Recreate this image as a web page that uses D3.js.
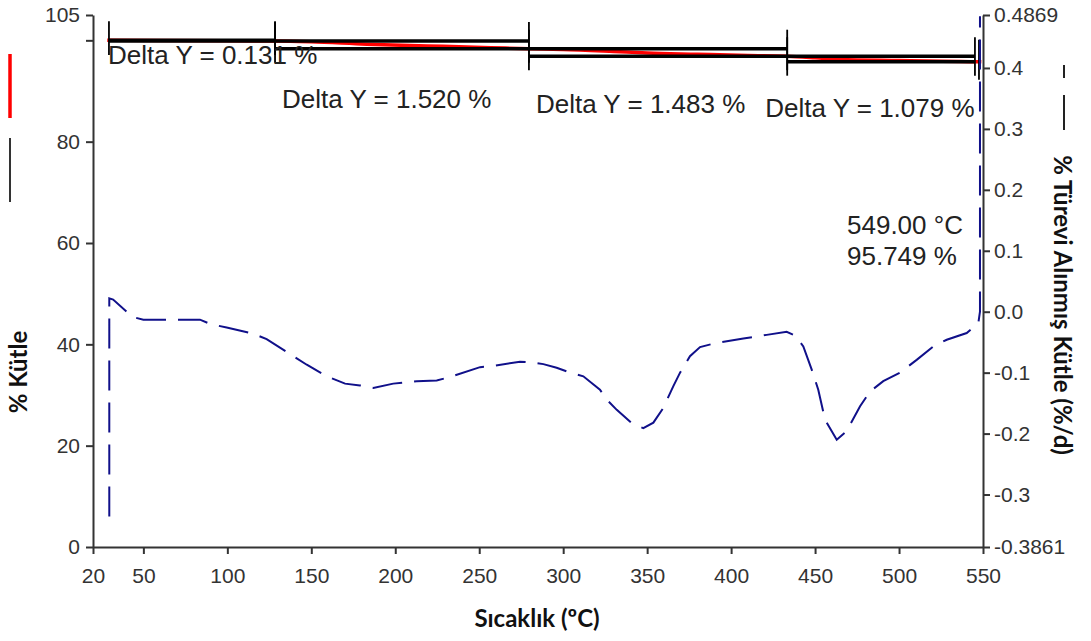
<!DOCTYPE html>
<html>
<head>
<meta charset="utf-8">
<script src="https://cdn.jsdelivr.net/npm/d3@7"></script>
<style>
  body { margin: 0; background: #fff; }
  svg { display: block; }
  .tick text { font-family: "Liberation Sans", Arial, sans-serif; font-size: 21px; fill: #333; }
  .axis path, .axis line { stroke: #333; stroke-width: 2; }
  .ttl { font-family: Lato, "Open Sans", sans-serif; font-weight: bold; font-size: 24px; fill: #111; }
  .dlab { font-family: "Liberation Sans", Arial, sans-serif; font-size: 26px; fill: #222; }
</style>
</head>
<body>
<div id="frame_div"></div>
<script>
// TGA chart: mass (left) and derivative (right) vs temperature

const FRAME_WIDTH = 1091;
const FRAME_HEIGHT = 641;

// x axis ticks
const xTicks = [20, 50, 100, 150, 200, 250, 300, 350, 400, 450, 500, 550];
const yLeftTicks = [0, 20, 40, 60, 80, 100, 105];
const yLeftLabels = ["0", "20", "40", "60", "80", "", "105"];
const yRightTicks = [-0.3861, -0.3, -0.2, -0.1, 0.0, 0.1, 0.2, 0.3, 0.4, 0.4869];
const yRightLabels = ["-0.3861", "-0.3", "-0.2", "-0.1", "0.0", "0.1", "0.2", "0.3", "0.4", "0.4869"];

// derivative curve (right axis)
const derivT = [29.7, 29.7, 32, 40.1, 44.0, 50.0, 83.7, 89.7, 99.6, 115.5, 123.4, 139.3, 147.3,
  159.2, 170.1, 179.0, 186.9, 198.8, 212.8, 224.7, 232.6, 250.5, 258.4, 274.3, 280.2, 288.2,
  296.1, 304.1, 312.0, 321.9, 325.9, 331.9, 341.8, 347.7, 353.7, 359.6, 365.6, 369.6, 375.5,
  381.5, 391.4, 407.3, 421.2, 433.1, 438.1, 443.0, 448.0, 451.9, 455.9, 462.9, 468.8, 476.8,
  482.7, 490.6, 500.6, 510.5, 520.4, 528.4, 540.3, 547.2, 548.2, 548.2];
const derivV = [-0.336, 0.022, 0.020, 0.000, -0.009, -0.013, -0.013, -0.020, -0.026, -0.036, -0.045,
  -0.073, -0.087, -0.106, -0.118, -0.121, -0.125, -0.118, -0.114, -0.113, -0.107, -0.091, -0.089,
  -0.082, -0.083, -0.086, -0.092, -0.100, -0.106, -0.128, -0.144, -0.161, -0.185, -0.191, -0.182,
  -0.158, -0.122, -0.100, -0.073, -0.058, -0.051, -0.044, -0.038, -0.033, -0.039, -0.057, -0.095,
  -0.128, -0.177, -0.210, -0.196, -0.155, -0.131, -0.114, -0.100, -0.079, -0.057, -0.046, -0.035,
  -0.019, 0.000, 0.485];

// mass curve (left axis)
const massT = [28.5, 60, 100, 128.4, 150, 183, 219, 257, 279.6, 300, 330, 350, 380, 410, 433.4,
  450, 465, 500, 545.2, 549];
const massV = [100.0, 99.97, 99.92, 99.869, 99.7, 99.25, 98.9, 98.55, 98.349, 98.2, 97.8, 97.5,
  97.25, 97.0, 96.866, 96.55, 96.2, 96.0, 95.787, 95.749];

// delta Y step markers
const deltaStartT = [29.5, 128.4, 279.6, 433.4];
const deltaEndT = [128.4, 279.6, 433.4, 545.2];
const deltaStartM = [100.0, 99.869, 98.349, 96.866];
const deltaEndM = [99.869, 98.349, 96.866, 95.787];
const deltaLabels = ["Delta Y = 0.131 %", "Delta Y = 1.520 %", "Delta Y = 1.483 %", "Delta Y = 1.079 %"];

// cursor readout
const cursorT = 549.0;
const cursorM = 95.749;

const svg = d3.select("#frame_div")
  .append("svg")
    .attr("width", FRAME_WIDTH)
    .attr("height", FRAME_HEIGHT);

const X_SCALE = d3.scaleLinear().domain([20, 550]).range([93, 983]);
const YL_SCALE = d3.scaleLinear().domain([0, 105]).range([547, 15]);
const YR_SCALE = d3.scaleLinear().domain([-0.3861, 0.4869]).range([547, 15]);

// axes
svg.append("g")
    .attr("class", "axis")
    .attr("transform", "translate(0,547)")
    .call(d3.axisBottom(X_SCALE).tickValues(xTicks).tickSize(7).tickPadding(14).tickSizeOuter(0));

svg.append("g")
    .attr("class", "axis")
    .attr("transform", "translate(93,0)")
    .call(d3.axisLeft(YL_SCALE).tickValues(yLeftTicks).tickSize(7).tickPadding(6).tickSizeOuter(0)
      .tickFormat((d, i) => yLeftLabels[i]));

svg.append("g")
    .attr("class", "axis")
    .attr("transform", "translate(983,0)")
    .call(d3.axisRight(YR_SCALE).tickValues(yRightTicks).tickSize(7).tickPadding(4).tickSizeOuter(0)
      .tickFormat((d, i) => yRightLabels[i]));

// mass curve (red)
const massData = massT.map((t, i) => [t, massV[i]]);
svg.append("path")
    .datum(massData)
    .attr("fill", "none")
    .attr("stroke", "#ff0000")
    .attr("stroke-width", 3.5)
    .attr("d", d3.line().x(d => X_SCALE(d[0])).y(d => YL_SCALE(d[1])).curve(d3.curveMonotoneX));

// delta markers
deltaStartT.forEach((t0, i) => {
  const x0 = X_SCALE(t0), x1 = X_SCALE(deltaEndT[i]);
  const y0 = YL_SCALE(deltaStartM[i]), y1 = YL_SCALE(deltaEndM[i]);
  const g = svg.append("g").attr("stroke", "#000");
  g.append("line").attr("x1", x0).attr("x2", x1).attr("y1", y0).attr("y2", y0).attr("stroke-width", 3.5);
  g.append("line").attr("x1", x0).attr("x2", x1).attr("y1", y1).attr("y2", y1).attr("stroke-width", 3.5);
  [x0, x1].forEach(x => {
    g.append("line").attr("x1", x).attr("x2", x).attr("y1", y0 - 19).attr("y2", y1 + 14).attr("stroke-width", 1.8);
  });
});

const labelPos = [[-1, 64], [7, 108], [7, 113], [-22, 117]];
deltaLabels.forEach((txt, i) => {
  svg.append("text")
      .attr("class", "dlab")
      .attr("x", X_SCALE(deltaStartT[i]) + labelPos[i][0])
      .attr("y", labelPos[i][1])
      .text(txt);
});

// cursor
svg.append("line")
    .attr("x1", X_SCALE(548.2) - 1).attr("x2", X_SCALE(548.2) - 1)
    .attr("y1", YL_SCALE(cursorM) - 22).attr("y2", YL_SCALE(cursorM) + 18)
    .attr("stroke", "#000").attr("stroke-width", 1.8);
svg.append("text").attr("class", "dlab").attr("x", 847).attr("y", 234)
    .text(cursorT.toFixed(2) + " °C");
svg.append("text").attr("class", "dlab").attr("x", 847).attr("y", 265)
    .text(cursorM.toFixed(3) + " %");

// derivative curve (blue dashed)
const derivData = derivT.map((t, i) => [t, derivV[i]]);
svg.append("path")
    .datum(derivData)
    .attr("fill", "none")
    .attr("stroke", "#10108a")
    .attr("stroke-width", 2)
    .attr("stroke-dasharray", "30,12")
    .attr("d", d3.line().x(d => X_SCALE(d[0])).y(d => YR_SCALE(d[1])));

// legend marks
svg.append("line").attr("x1", 10).attr("x2", 10).attr("y1", 54).attr("y2", 118)
    .attr("stroke", "#ff0000").attr("stroke-width", 3.5);
svg.append("line").attr("x1", 10).attr("x2", 10).attr("y1", 138).attr("y2", 202)
    .attr("stroke", "#333").attr("stroke-width", 2);
svg.append("line").attr("x1", 1064).attr("x2", 1064).attr("y1", 65).attr("y2", 130)
    .attr("stroke", "#222").attr("stroke-width", 2).attr("stroke-dasharray", "13,17,40");

// titles
svg.append("text").attr("class", "ttl")
    .attr("transform", "translate(27,372) rotate(-90)")
    .attr("text-anchor", "middle")
    .text("% Kütle");
svg.append("text").attr("class", "ttl")
    .attr("transform", "translate(1054,305) rotate(90)")
    .attr("text-anchor", "middle")
    .text("% Türevi Alınmış Kütle (%/d)");
svg.append("text").attr("class", "ttl")
    .attr("x", 537).attr("y", 627)
    .attr("text-anchor", "middle")
    .text("Sıcaklık (ºC)");
</script>
</body>
</html>
